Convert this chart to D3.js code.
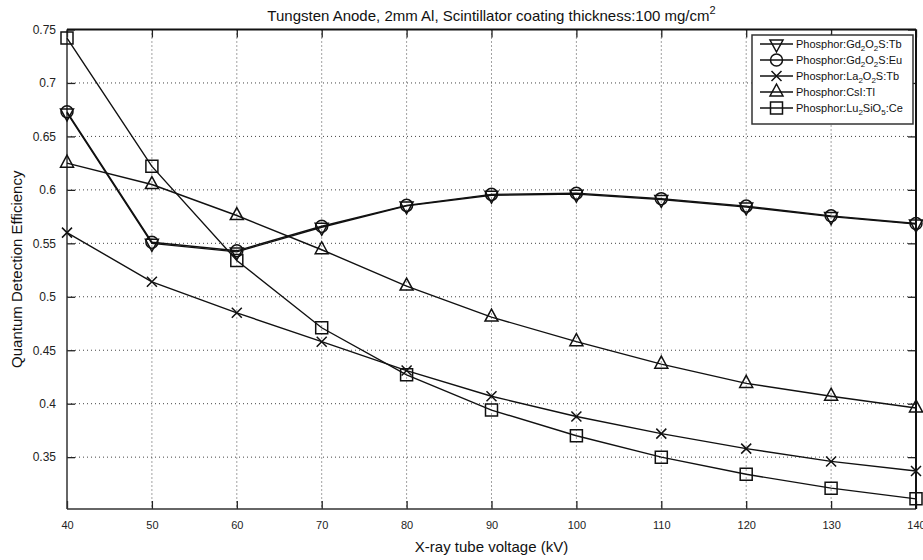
<!DOCTYPE html>
<html>
<head>
<meta charset="utf-8">
<script src="https://cdn.jsdelivr.net/npm/d3@7"></script>
<style>
  html, body { margin: 0; padding: 0; background: #fff; }
  svg { display: block; font-family: "Liberation Sans", Arial, Helvetica, sans-serif; }
</style>
</head>
<body>
<svg id="chart" width="923" height="560"></svg>
<script>
// ---- data ----
const voltages = [40, 50, 60, 70, 80, 90, 100, 110, 120, 130, 140];
const gdTb  = [0.672, 0.550, 0.542, 0.565, 0.585, 0.595, 0.596, 0.591, 0.584, 0.575, 0.568];
const gdEu  = [0.673, 0.551, 0.543, 0.566, 0.5855, 0.5958, 0.5968, 0.5918, 0.5848, 0.5757, 0.5686];
const laTb  = [0.560, 0.514, 0.485, 0.458, 0.431, 0.407, 0.388, 0.372, 0.358, 0.346, 0.337];
const csiTl = [0.625, 0.605, 0.576, 0.544, 0.510, 0.481, 0.458, 0.437, 0.419, 0.407, 0.396];
const luSiO = [0.742, 0.622, 0.534, 0.471, 0.427, 0.394, 0.370, 0.350, 0.334, 0.321, 0.311];
const xTicks = [40, 50, 60, 70, 80, 90, 100, 110, 120, 130, 140];
const yTicks = [0.35, 0.4, 0.45, 0.5, 0.55, 0.6, 0.65, 0.7, 0.75];
const seriesNames = [
  [["Phosphor:Gd", ""], ["2", "sub"], ["O", ""], ["2", "sub"], ["S:Tb", ""]],
  [["Phosphor:Gd", ""], ["2", "sub"], ["O", ""], ["2", "sub"], ["S:Eu", ""]],
  [["Phosphor:La", ""], ["2", "sub"], ["O", ""], ["2", "sub"], ["S:Tb", ""]],
  [["Phosphor:CsI:Tl", ""]],
  [["Phosphor:Lu", ""], ["2", "sub"], ["SiO", ""], ["5", "sub"], [":Ce", ""]]
];
const seriesMarkers = ["down", "circle", "x", "up", "square"];
const seriesValues = [gdTb, gdEu, laTb, csiTl, luSiO];

// ---- layout ----
const L = 67, R = 916, T = 29.5, B = 509;
const svg = d3.select("#chart");
const x = d3.scaleLinear().domain([40, 140]).range([L, R]);
const y = d3.scaleLinear().domain([0.3015, 0.75]).range([B, T]);

const markerPath = {
  down: "M0,8L6.5,-4L-6.5,-4Z",
  up: "M0,-8L6.5,4L-6.5,4Z",
  square: "M-6,-6H6V6H-6Z",
  circle: "M-6,0A6,6 0 1,0 6,0A6,6 0 1,0 -6,0Z",
  x: "M-5,-5L5,5M-5,5L5,-5"
};

// grid
const grid = svg.append("g");
xTicks.slice(1, -1).forEach(t => {
  grid.append("line").attr("x1", x(t)).attr("x2", x(t)).attr("y1", T).attr("y2", B)
    .attr("stroke", "#444").attr("stroke-width", 1).attr("stroke-dasharray", "1,3");
});
yTicks.filter(t => t < 0.75).forEach(t => {
  grid.append("line").attr("x1", L).attr("x2", R).attr("y1", y(t)).attr("y2", y(t))
    .attr("stroke", "#444").attr("stroke-width", 1).attr("stroke-dasharray", "1,3");
});

// axes (inward ticks, MATLAB-like)
const axB = d3.axisBottom(x).tickValues(xTicks).tickSize(-8).tickPadding(12).tickFormat(d3.format("d"));
const axL = d3.axisLeft(y).tickValues(yTicks).tickSize(-8).tickPadding(11).tickFormat(d => String(+d.toFixed(2)));
const axT = d3.axisTop(x).tickValues(xTicks).tickSize(-8).tickFormat("");
const axR = d3.axisRight(y).tickValues(yTicks).tickSize(-8).tickFormat("");

function styleAxis(g, fs) {
  g.select(".domain").remove();
  g.selectAll(".tick line").attr("stroke", "#222").attr("stroke-width", 1.3);
  g.selectAll(".tick text").attr("fill", "#222").attr("font-size", fs)
    .attr("font-family", "'Liberation Sans', Arial, sans-serif");
}
svg.append("g").attr("transform", `translate(0,${B})`).call(axB).call(g => styleAxis(g, 11));
svg.append("g").attr("transform", `translate(${L},0)`).call(axL).call(g => styleAxis(g, 12));
svg.append("g").attr("transform", `translate(0,${T})`).call(axT).call(g => styleAxis(g, 11));
svg.append("g").attr("transform", `translate(${R},0)`).call(axR).call(g => styleAxis(g, 11));

// frame
svg.append("line").attr("x1", L).attr("x2", L).attr("y1", T).attr("y2", B).attr("stroke", "#333").attr("stroke-width", 1.5);
svg.append("line").attr("x1", L).attr("x2", R).attr("y1", B).attr("y2", B).attr("stroke", "#333").attr("stroke-width", 1.5);
svg.append("line").attr("x1", L).attr("x2", R).attr("y1", T).attr("y2", T).attr("stroke", "#111").attr("stroke-width", 2);
svg.append("line").attr("x1", R).attr("x2", R).attr("y1", T).attr("y2", B).attr("stroke", "#111").attr("stroke-width", 2);

// series
const line = d3.line().x((d, i) => x(voltages[i])).y(d => y(d));
seriesValues.forEach((vals, si) => {
  const g = svg.append("g");
  g.append("path").attr("d", line(vals)).attr("fill", "none").attr("stroke", "#111").attr("stroke-width", 1.4);
  g.selectAll("path.m").data(vals).enter().append("path").attr("class", "m")
    .attr("d", markerPath[seriesMarkers[si]])
    .attr("transform", (d, i) => `translate(${x(voltages[i])},${y(d)})`)
    .attr("fill", "none").attr("stroke", "#111").attr("stroke-width", 1.5);
});

// legend
const lg = svg.append("g");
lg.append("rect").attr("x", 752).attr("y", 35).attr("width", 161).attr("height", 89)
  .attr("fill", "#fff").attr("stroke", "#333").attr("stroke-width", 1.5);
const rowY = [44, 60, 76, 92, 108];
seriesNames.forEach((parts, i) => {
  const yy = rowY[i];
  lg.append("line").attr("x1", 760).attr("x2", 793).attr("y1", yy).attr("y2", yy).attr("stroke", "#111").attr("stroke-width", 1.4);
  lg.append("path").attr("d", markerPath[seriesMarkers[i]]).attr("transform", `translate(776.5,${yy})`)
    .attr("fill", "none").attr("stroke", "#111").attr("stroke-width", 1.5);
  const t = lg.append("text").attr("x", 796).attr("y", yy + 4).attr("font-size", 11).attr("fill", "#111");
  parts.forEach(([s, k]) => {
    const ts = t.append("tspan").text(s);
    if (k === "sub") ts.attr("font-size", 8).attr("dy", 3);
    else if (t.selectAll("tspan").size() > 1) ts.attr("dy", -3);
  });
});

// title
const title = svg.append("text").attr("x", (L + R) / 2).attr("y", 21).attr("text-anchor", "middle")
  .attr("font-size", 15).attr("fill", "#111");
title.append("tspan").text("Tungsten Anode, 2mm Al, Scintillator coating thickness:100 mg/cm");
title.append("tspan").text("2").attr("font-size", 11).attr("dy", -7);

// axis labels
svg.append("text").attr("x", (L + R) / 2).attr("y", 552).attr("text-anchor", "middle")
  .attr("font-size", 15).attr("fill", "#111").text("X-ray tube voltage (kV)");
svg.append("text").attr("transform", `translate(22,${(T + B) / 2}) rotate(-90)`).attr("text-anchor", "middle")
  .attr("font-size", 15).attr("fill", "#111").text("Quantum Detection Efficiency");
</script>
</body>
</html>
